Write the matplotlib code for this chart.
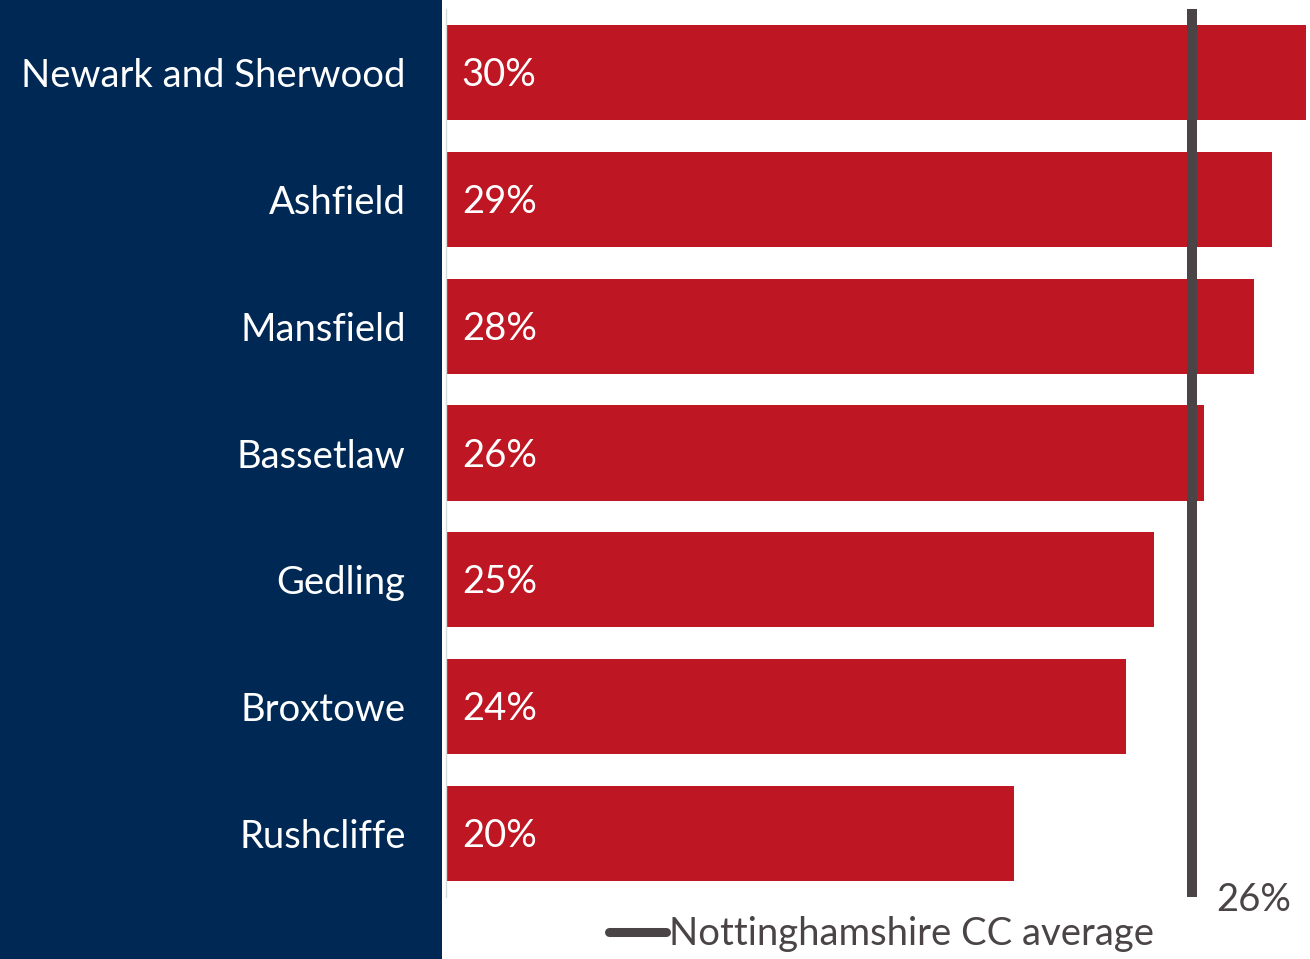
import matplotlib.pyplot as plt
from matplotlib.lines import Line2D
from matplotlib.patches import Rectangle
import matplotlib.transforms as mtransforms

plt.rcParams["font.family"] = ["Lato", "DejaVu Sans"]

# share of residents by district (%), plus the county average
districts = ["Newark and Sherwood", "Ashfield", "Mansfield", "Bassetlaw",
             "Gedling", "Broxtowe", "Rushcliffe"]
shares = [29.97, 28.76, 28.16, 26.39, 24.68, 23.70, 19.80]
county_avg = 26.0
avg_label = "Nottinghamshire CC average"

NAVY = "#002855"
RED = "#BE1622"
GREY = "#4A4446"
FS = 27.5

W, H = 1310, 959
fig = plt.figure(figsize=(W / 100, H / 100), dpi=100)

# navy panel behind the district names
fig.patches.append(Rectangle((0, 0), 442 / W, 1, transform=fig.transFigure,
                             facecolor=NAVY, edgecolor="none", zorder=-1))

ax = fig.add_axes([446 / W, 62 / H, (W - 446) / W, 888 / H])
ax.set_facecolor("none")
ax.set_zorder(2)

y = list(range(len(districts)))
ax.barh(y, shares, height=0.75, color=RED, zorder=2)
for yi, v in zip(y, shares):
    ax.text(0.55, yi + 0.02, f"{v:.0f}%", color="white", fontsize=FS,
            va="center", ha="left", zorder=3)

ax.axvline(county_avg, color=GREY, lw=7.2, solid_capstyle="butt", zorder=4)
ax.annotate(f"{county_avg:.0f}%", xy=(county_avg, 0),
            xycoords=mtransforms.blended_transform_factory(ax.transData, ax.transAxes),
            xytext=(17, -2), textcoords="offset points",
            ha="left", va="center", fontsize=FS, color=GREY)

ax.set_xlim(0, 30.1)
ax.set_ylim(len(districts) - 0.5, -0.5)
ax.set_yticks(y, districts, color="white", fontsize=FS)
ax.tick_params(axis="y", length=0, pad=29)
ax.set_xticks([])
for side in ["top", "right", "bottom"]:
    ax.spines[side].set_visible(False)
ax.spines["left"].set_color("#D9D9D9")
ax.spines["left"].set_linewidth(1)

handle = Line2D([], [], color=GREY, lw=6.5, solid_capstyle="round")
fig.legend([handle], [avg_label], loc="center left",
           bbox_to_anchor=(609 / W, 1 - 934 / H), frameon=False,
           fontsize=FS, labelcolor=GREY, handlelength=1.5,
           handletextpad=0.08, borderaxespad=0, borderpad=0)

fig.savefig("out.png", dpi=100)
